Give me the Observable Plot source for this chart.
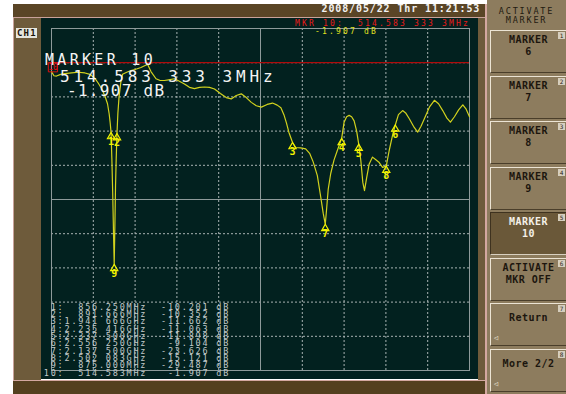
<!DOCTYPE html>
<html>
<head>
<meta charset="utf-8">
<script src="https://cdn.jsdelivr.net/npm/d3@7"></script>
<script src="https://cdn.jsdelivr.net/npm/@observablehq/plot@0.6"></script>
<style>
  html, body { margin: 0; padding: 0; background: #ffffff; }
  #na { position: relative; width: 566px; height: 394px; overflow: hidden; font-family: "DejaVu Sans Mono", monospace; }
  #na .abs { position: absolute; box-sizing: border-box; white-space: pre; }
  #na svg text, #na svg tspan { white-space: pre; }
  .key { position: absolute; box-sizing: border-box; left: 490px; width: 76px; height: 43px;
         background: #8d7c5e; border-top: 1px solid #ece4d4; border-left: 1px solid #ece4d4;
         border-bottom: 1px solid #4a3e2a; color: #1c160e; font-weight: bold; font-size: 10px;
         letter-spacing: 0.5px; line-height: 12px; text-align: center; white-space: pre; }
  .key.active { background: #6a5839; color: #f4f0e8; border-top-color: #3e321f; border-left-color: #3e321f; border-bottom-color: #d8d0c0; }
  .key .num { position: absolute; right: 1px; top: 1px; width: 7px; height: 7px; background: #d6cebe;
              color: #2a2216; font-size: 6px; line-height: 7px; letter-spacing: 0; font-weight: normal; text-align: center; }
  .key .soft { position: absolute; left: 3px; bottom: 3px; font-size: 7px; line-height: 7px; color: #e8e0d0; font-weight: normal; }
</style>
</head>
<body>
<div id="na"></div>
<script>
// Sweep settings
const freqStartMHz = 500;
const freqStopMHz = 3000;
const freqPerDivMHz = 250;
const dbTop = 5;
const dbBottom = -45;
const dbPerDiv = 5;
const refLevelDb = 0;

// Measured S-parameter trace (MHz, dB)
const traceFreqMHz = [
  500, 514.583, 530, 555, 580, 620, 660, 700, 730, 760, 780, 800, 820, 835, 845, 851,
  856.25, 861, 866, 871, 875, 879, 883, 887, 891.666, 897, 904, 915, 925, 950, 975, 1000,
  1035, 1060, 1075, 1095, 1125, 1150, 1175, 1200, 1235, 1265, 1295, 1325, 1355, 1385, 1415,
  1445, 1475, 1510, 1545, 1575, 1605, 1635, 1665, 1695, 1725, 1755, 1790, 1822, 1850, 1872,
  1890, 1905, 1920, 1941.666, 1960, 1990, 2020, 2045, 2065, 2090, 2110, 2125, 2137.5, 2145,
  2155, 2170, 2190, 2210, 2235.416, 2250, 2265, 2280, 2295, 2310, 2325, 2337.5, 2350, 2362,
  2372, 2385, 2400, 2420, 2440, 2460, 2480, 2502.083, 2520, 2540, 2556.25, 2575, 2600, 2620,
  2640, 2665, 2690, 2710, 2730, 2760, 2790, 2815, 2840, 2865, 2886, 2910, 2935, 2960, 2980, 3000
];
const traceDb = [
  -1.3, -1.907, -1.95, -1.7, -1.6, -1.5, -1.4, -1.5, -1.7, -2.3, -3.0, -3.8, -4.9, -6.0, -7.5, -8.8,
  -10.201, -14, -19, -25, -29.487, -24, -18, -14, -10.352, -7.4, -5.0, -2.8, -1.7, -1.4, -1.15, -1.0,
  -0.7, -0.4, -0.25, -1.3, -2.35, -2.6, -2.6, -2.5, -2.35, -2.7, -3.1, -3.6, -3.8, -3.6, -3.55,
  -3.6, -3.85, -4.5, -5.1, -5.3, -4.8, -4.55, -5.1, -5.8, -6.3, -6.5, -6.1, -5.9, -6.2, -6.6,
  -7.6, -8.8, -10.2, -11.662, -12.4, -12.45, -12.6, -13.3, -14.5, -16.5, -19.6, -22, -23.626, -21.5,
  -18.5, -16.2, -14.2, -12.8, -11.063, -8.7, -7.9, -7.7, -7.9, -8.5, -10, -11.898, -14.3, -17.5,
  -18.7, -16.8, -14.8, -13.8, -14.2, -14.6, -15.3, -15.121, -12.8, -10.6, -9.104, -7.6, -7.0, -7.4,
  -8.2, -9.3, -10.15, -9.3, -8.2, -6.5, -5.5, -6.0, -7.0, -8.1, -8.7, -7.9, -6.9, -6.15, -6.8, -7.9
];

// Marker list
const markerIds = [1, 2, 3, 4, 5, 6, 7, 8, 9, 10];
const markerFreqMHz = [856.25, 891.666, 1941.666, 2235.416, 2337.5, 2556.25, 2137.5, 2502.083, 875, 514.5833333];
const markerDb = [-10.201, -10.352, -11.662, -11.063, -11.898, -9.104, -23.626, -15.121, -29.487, -1.907];
const activeMarker = 10;

// Instrument screen texts
const channelLabel = "CH1";
const timestamp = "2008/05/22 Thr 11:21:53";
const softkeyTitle = "ACTIVATE\nMARKER";
const softkeyLabels = ["MARKER\n6", "MARKER\n7", "MARKER\n8", "MARKER\n9", "MARKER\n10", "ACTIVATE\nMKR OFF", "Return", "More 2/2"];
const softkeyActive = 4;
const softkeyWithArrow = [6, 7];

const trace = traceFreqMHz.map((f, i) => ({f, db: traceDb[i]}));
const markers = markerIds.map((id, i) => ({id, f: markerFreqMHz[i], db: markerDb[i]}));
const active = markers.find(m => m.id === activeMarker);
const others = markers.filter(m => m.id !== activeMarker);

const fmtDb = v => v.toFixed(3);
function fmtFreqShort(f) {
  if (f >= 1000) {
    const s = (f / 1000).toFixed(6);
    return s.slice(0, 5) + " " + s.slice(5) + "GHz";
  }
  return f.toFixed(3) + "MHz";
}
function fmtFreqLong(f) {
  const s = f.toFixed(7);
  const [a, b] = s.split(".");
  return a + "." + b.slice(0, 3) + " " + b.slice(3, 6) + " " + b.slice(6) + "MHz";
}

const W = 566, H = 394;
const frame = {left: 51, right: 469, top: 28, bottom: 370};
const centerF = (freqStartMHz + freqStopMHz) / 2;
const centerDb = (dbTop + dbBottom) / 2;
const gridX = d3.range(freqStartMHz + freqPerDivMHz, freqStopMHz, freqPerDivMHz);
const gridY = d3.range(dbBottom + dbPerDiv, dbTop, dbPerDiv);
const gridColor = "#a9b3b3";
const solidColor = "#8e9a9a";
const traceColor = "#d2d21e";
const markColor = "#f2f200";
const activeColor = "#e01010";

const root = document.getElementById("na");
function box(left, top, width, height, bg, extra = {}) {
  const d = document.createElement("div");
  d.className = "abs";
  Object.assign(d.style, {left: left + "px", top: top + "px", width: width + "px", height: height + "px", background: bg}, extra);
  root.appendChild(d);
  return d;
}
function label(text, left, top, size, color, extra = {}) {
  const d = document.createElement("div");
  d.className = "abs";
  d.textContent = text;
  Object.assign(d.style, {left: left + "px", top: top + "px", fontSize: size + "px", lineHeight: size + "px", color}, extra);
  root.appendChild(d);
  return d;
}

// Instrument bezel
box(13, 4, 473, 13, "#5a4526");
box(13, 17, 473, 1, "#c9a29a");
box(13, 18, 28, 362, "#6e5b3b", {borderLeft: "1px solid #c9a29a"});
box(41, 18, 437, 361, "#02211f");
box(478, 18, 7, 362, "#6e5b3b");
box(485, 4, 1.5, 390, "#d4a8a0");
box(13, 379.5, 473, 1.5, "#d4a8a0");
box(13, 381, 472, 13, "#54401f");

// Softkey panel
box(486.5, 0, 80, 394, "#8d7c5e");
label(softkeyTitle, 487, 7, 8.5, "#221a10", {width: "79px", textAlign: "center", letterSpacing: "1.8px", lineHeight: "8.5px"});
softkeyLabels.forEach((t, i) => {
  const k = document.createElement("div");
  k.className = "key" + (i === softkeyActive ? " active" : "");
  const top = 30 + i * 45.5;
  k.style.top = top + "px";
  const single = !t.includes("\n");
  k.style.paddingTop = single ? "8px" : "3px";
  k.textContent = t;
  const n = document.createElement("div");
  n.className = "num";
  n.textContent = String(i + 1);
  k.appendChild(n);
  if (softkeyWithArrow.includes(i)) {
    const a = document.createElement("div");
    a.className = "soft";
    a.textContent = "\u25C1";
    k.appendChild(a);
  }
  root.appendChild(k);
});

// Chart area
const chart = Plot.plot({
  width: W,
  height: H,
  marginLeft: frame.left,
  marginRight: W - frame.right,
  marginTop: frame.top,
  marginBottom: H - frame.bottom,
  x: {domain: [freqStartMHz, freqStopMHz], axis: null},
  y: {domain: [dbBottom, dbTop], axis: null},
  style: {background: "transparent"},
  marks: [
    Plot.ruleX(gridX.filter(f => f !== centerF), {stroke: gridColor, strokeDasharray: "2,2"}),
    Plot.ruleY(gridY.filter(d => d !== centerDb), {stroke: gridColor, strokeDasharray: "2,2"}),
    Plot.ruleX([centerF], {stroke: solidColor}),
    Plot.ruleY([centerDb], {stroke: solidColor}),
    Plot.frame({stroke: solidColor}),
    Plot.ruleY([refLevelDb], {stroke: "#b00c0c", strokeWidth: 1.2}),
    Plot.line(trace, {x: "f", y: "db", stroke: traceColor, strokeWidth: 1.2}),
    Plot.dot(others, {x: "f", y: "db", symbol: "triangle", r: 2.7, dy: 4.2, stroke: markColor, fill: "none", strokeWidth: 1.2}),
    Plot.text(others, {x: "f", y: "db", text: d => String(d.id), dy: 5.5, lineAnchor: "top", fill: markColor,
      fontSize: 10, fontWeight: "bold", fontFamily: "DejaVu Sans Mono"}),
    Plot.dot([active], {x: "f", y: "db", symbol: "square", r: 5.2, dx: -1, dy: -8.5, stroke: activeColor, fill: "none", strokeWidth: 1}),
    Plot.text([active], {x: "f", y: "db", text: d => String(d.id), dx: -1, dy: -8.5, fill: activeColor,
      fontSize: 8, fontFamily: "DejaVu Sans Mono"})
  ]
});
chart.style.position = "absolute";
chart.style.left = "0px";
chart.style.top = "0px";
chart.style.maxWidth = "none";
root.appendChild(chart);

// Channel tag and timestamp
label(channelLabel, 16, 28.3, 9, "#1a1208", {background: "#e6e6de", width: "21px", height: "10px", lineHeight: "10px",
  fontWeight: "bold", letterSpacing: "1.2px", paddingLeft: "1px"});
label(timestamp, 321.5, 4.3, 10, "#f2f2f2", {fontWeight: "bold", letterSpacing: "0.88px"});

// Active marker readouts
label(`MKR ${active.id}:  ${fmtFreqLong(active.f)}`, 295, 20, 8, "#e81a1a", {letterSpacing: "2.18px"});
label(`${fmtDb(active.db)} dB`, 315, 27.6, 8, "#e0e020", {letterSpacing: "2.18px"});
label(`MARKER ${active.id}`, 45, 53.3, 15, "#f4f4f4", {letterSpacing: "3.3px"});
label(fmtFreqLong(active.f), 60, 68.8, 16, "#f4f4f4", {letterSpacing: "3.9px"});
label(`${fmtDb(active.db)} dB`, 67, 83.2, 16, "#f4f4f4", {letterSpacing: "1.3px"});

// Marker table
const rows = markers.map(m =>
  (String(m.id).padStart(2) + ":") + fmtFreqShort(m.f).padStart(12) + fmtDb(m.db).padStart(9) + " dB"
);
label(rows.join("\n"), 43.8, 303.7, 8.5, "#c2caca", {letterSpacing: "1.78px", lineHeight: "7.33px"});
</script>
</body>
</html>
